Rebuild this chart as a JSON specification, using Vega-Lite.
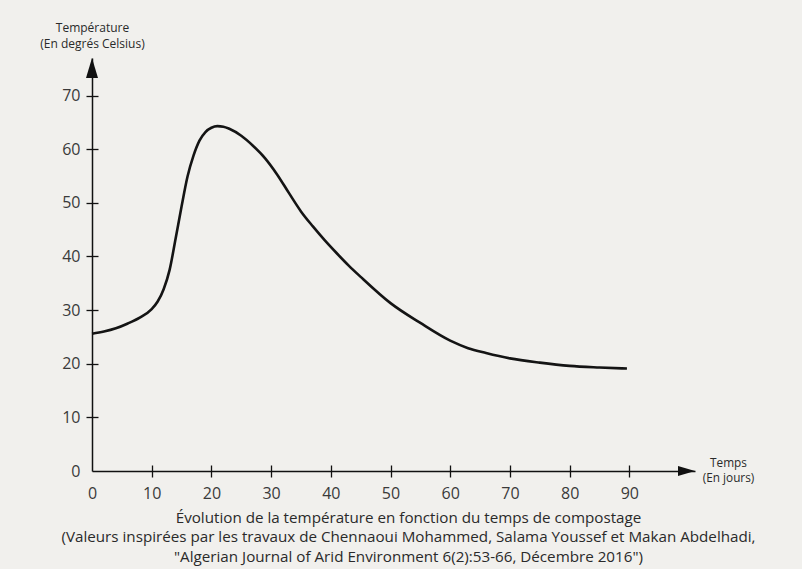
{
  "$schema": "https://vega.github.io/schema/vega-lite/v6.json",
  "width": 603,
  "height": 413,
  "autosize": {"type": "none"},
  "padding": {"left": 92, "top": 58, "right": 107, "bottom": 98},
  "background": "#f1f0ed",
  "config": {"view": {"stroke": null}, "font": "Open Sans", "axis": {"grid": false}},
  "data": {
    "values": [
      {"jour": 0, "temperature": 25.6},
      {"jour": 2, "temperature": 26.0},
      {"jour": 4, "temperature": 26.6},
      {"jour": 6, "temperature": 27.5},
      {"jour": 8, "temperature": 28.6},
      {"jour": 10, "temperature": 30.2},
      {"jour": 11, "temperature": 31.6},
      {"jour": 12, "temperature": 33.9},
      {"jour": 13, "temperature": 37.5},
      {"jour": 14, "temperature": 43.3},
      {"jour": 15, "temperature": 49.3},
      {"jour": 16, "temperature": 54.9},
      {"jour": 17, "temperature": 58.8},
      {"jour": 18, "temperature": 61.6},
      {"jour": 19, "temperature": 63.2},
      {"jour": 20, "temperature": 64.0},
      {"jour": 21, "temperature": 64.3},
      {"jour": 22, "temperature": 64.2},
      {"jour": 23, "temperature": 63.8},
      {"jour": 25, "temperature": 62.5},
      {"jour": 27, "temperature": 60.6},
      {"jour": 29, "temperature": 58.3},
      {"jour": 31, "temperature": 55.3},
      {"jour": 33, "temperature": 51.8},
      {"jour": 35, "temperature": 48.4},
      {"jour": 37, "temperature": 45.6},
      {"jour": 39, "temperature": 43.0},
      {"jour": 41, "temperature": 40.6},
      {"jour": 43, "temperature": 38.3},
      {"jour": 45, "temperature": 36.2},
      {"jour": 50, "temperature": 31.3},
      {"jour": 55, "temperature": 27.6},
      {"jour": 60, "temperature": 24.3},
      {"jour": 63, "temperature": 22.9},
      {"jour": 66, "temperature": 22.0},
      {"jour": 70, "temperature": 21.0},
      {"jour": 75, "temperature": 20.2},
      {"jour": 80, "temperature": 19.6},
      {"jour": 85, "temperature": 19.3},
      {"jour": 89.6, "temperature": 19.1}
    ]
  },
  "layer": [
    {
      "mark": {"type": "line", "interpolate": "monotone", "color": "#141414", "strokeWidth": 2.6},
      "encoding": {
        "x": {
          "field": "jour", "type": "quantitative",
          "scale": {"domain": [0, 101], "nice": false, "zero": false},
          "axis": {
            "orient": "bottom",
            "values": [0, 10, 20, 30, 40, 50, 60, 70, 80, 90],
            "tickSize": 6, "tickColor": "#111111", "tickWidth": 1.3,
            "tickOpacity": {"condition": {"test": "datum.value === 0", "value": 0}, "value": 1},
            "domainColor": "#111111", "domainWidth": 1.5,
            "labelFontSize": 16, "labelColor": "#3a3a3a", "labelPadding": 8,
            "labelFlush": false, "labelOverlap": false,
            "title": ["Évolution de la température en fonction du temps de compostage", "(Valeurs inspirées par les travaux de Chennaoui Mohammed, Salama Youssef et Makan Abdelhadi,", "\"Algerian Journal of Arid Environment 6(2):53-66, Décembre 2016\")"],
            "titleX": 316, "titleY": 51, "titleAlign": "center", "titleAnchor": null,
            "titleBaseline": "alphabetic", "titleFontSize": 15.2, "titleFontWeight": "normal",
            "titleColor": "#2a2a2a", "titleLineHeight": 19.5
          }
        },
        "y": {
          "field": "temperature", "type": "quantitative",
          "scale": {"domain": [0, 77], "nice": false},
          "axis": {
            "orient": "left",
            "values": [0, 10, 20, 30, 40, 50, 60, 70],
            "tickSize": 6, "tickColor": "#111111", "tickWidth": 1.3,
            "tickOpacity": {"condition": {"test": "datum.value === 0", "value": 0}, "value": 1},
            "domainColor": "#111111", "domainWidth": 1.5,
            "labelFontSize": 16, "labelColor": "#3a3a3a", "labelPadding": 6,
            "labelFlush": false, "labelOverlap": false,
            "title": ["Température", "(En degrés Celsius)"],
            "titleAngle": 0, "titleX": 0, "titleY": -27, "titleAlign": "center", "titleAnchor": null,
            "titleBaseline": "alphabetic", "titleFontSize": 12, "titleFontWeight": "normal",
            "titleColor": "#2a2a2a", "titleLineHeight": 16
          }
        }
      }
    },
    {
      "data": {"values": [{}]},
      "mark": {"type": "point", "shape": "M0,0L0.6,2L-0.6,2Z", "filled": true, "size": 400, "color": "#111111", "opacity": 1, "strokeWidth": 0},
      "encoding": {
        "x": {
          "datum": 0, "type": "quantitative",
          "axis": {
            "orient": "bottom", "offset": -6,
            "values": [10, 20, 30, 40, 50, 60, 70, 80, 90],
            "tickSize": 6, "tickColor": "#111111", "tickWidth": 1.3,
            "domain": false, "labels": false,
            "title": ["Temps", "(En jours)"],
            "titleX": 636, "titleY": 1, "titleAlign": "center", "titleAnchor": null,
            "titleBaseline": "alphabetic", "titleFontSize": 11.8, "titleFontWeight": "normal",
            "titleColor": "#2a2a2a", "titleLineHeight": 15
          }
        },
        "y": {
          "datum": 77, "type": "quantitative",
          "axis": {
            "orient": "left", "offset": -6,
            "values": [10, 20, 30, 40, 50, 60, 70],
            "tickSize": 6, "tickColor": "#111111", "tickWidth": 1.3,
            "domain": false, "labels": false, "title": null
          }
        }
      }
    },
    {
      "data": {"values": [{}]},
      "mark": {"type": "point", "shape": "M0,0L-1.7,-0.5L-1.7,0.5Z", "filled": true, "size": 400, "color": "#111111", "opacity": 1, "strokeWidth": 0},
      "encoding": {
        "x": {"datum": 101, "type": "quantitative", "axis": null},
        "y": {"datum": 0, "type": "quantitative", "axis": null}
      }
    }
  ],
  "resolve": {"axis": {"x": "independent", "y": "independent"}}
}
